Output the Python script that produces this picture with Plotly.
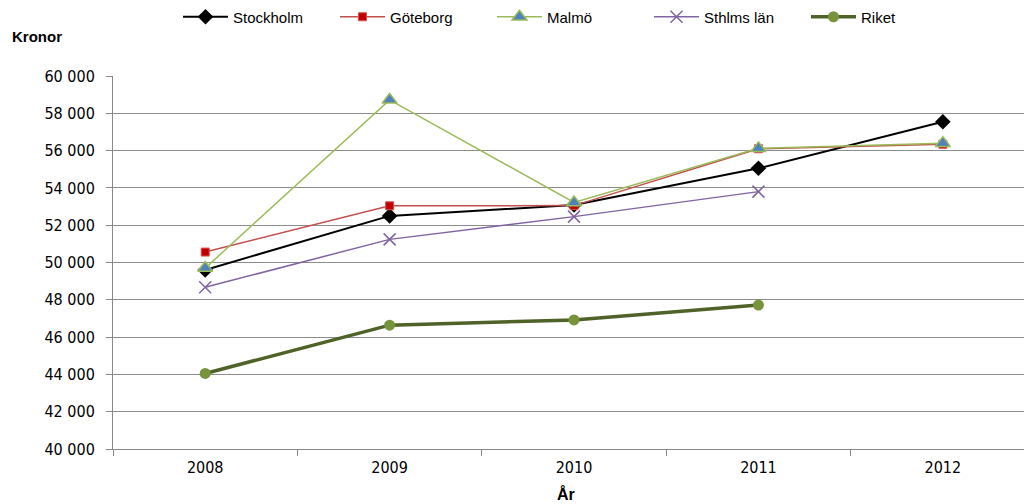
import plotly.graph_objects as go

years = ["2008", "2009", "2010", "2011", "2012"]
stockholm = [49600, 52500, 53080, 55050, 57550]
goteborg = [50560, 53040, 53050, 56100, 56340]
malmo = [49700, 58720, 53220, 56120, 56400]
sthlms_lan = [48670, 51240, 52460, 53800, None]
riket = [44050, 46640, 46920, 47720, None]
yticks = list(range(40000, 60001, 2000))
ytext = [f"{v//1000} 000" for v in yticks]

FONT = "Liberation Sans Narrow, DejaVu Sans Condensed, Arial Narrow, sans-serif"
L, T, B, W, H = 113, 76, 55, 1024, 504
PW = W - L
PH = H - T - B

fig = go.Figure()
fig.add_trace(go.Scatter(x=years, y=stockholm, name="Stockholm", mode="lines+markers",
                         line=dict(color="#000000", width=2),
                         marker=dict(symbol="diamond", size=12, color="#000000")))
fig.add_trace(go.Scatter(x=years, y=goteborg, name="Göteborg", mode="lines+markers",
                         line=dict(color="#C0504D", width=1.5),
                         marker=dict(symbol="square", size=8, color="#C00000",
                                     line=dict(color="#D9534F", width=1))))
fig.add_trace(go.Scatter(x=years, y=malmo, name="Malmö", mode="lines+markers",
                         line=dict(color="#9BBB59", width=1.5),
                         marker=dict(symbol="triangle-up", size=13, color="#4F81BD",
                                     line=dict(color="#9BBB59", width=1.5))))
fig.add_trace(go.Scatter(x=years, y=sthlms_lan, name="Sthlms län", mode="lines+markers",
                         line=dict(color="#8064A2", width=1.5),
                         marker=dict(symbol="x-thin", size=12,
                                     line=dict(color="#8064A2", width=1.5))))
fig.add_trace(go.Scatter(x=years, y=riket, name="Riket", mode="lines+markers",
                         line=dict(color="#4F6228", width=3.5),
                         marker=dict(symbol="circle", size=11, color="#77933C")))

fig.update_layout(
    width=W, height=H,
    margin=dict(l=L, r=0, t=T, b=B, autoexpand=False),
    paper_bgcolor="white", plot_bgcolor="white",
    font=dict(family=FONT, size=14, color="#000000"),
    showlegend=True,
    legend=dict(orientation="h", x=(178 - L) / PW, xanchor="left",
                y=1 + (T - 17) / PH, yanchor="middle",
                font=dict(family="Liberation Sans, Arial, sans-serif", size=15),
                itemwidth=45, entrywidth=97, entrywidthmode="pixels",
                bgcolor="rgba(0,0,0,0)"),
    xaxis=dict(type="category", range=[-0.5, 4.44], showgrid=False, automargin=False,
               showline=True, linecolor="#888888", linewidth=1,
               ticks="outside", tickson="boundaries", ticklen=6, tickcolor="#888888",
               ticklabelstandoff=4,
               tickfont=dict(size=16), zeroline=False),
    yaxis=dict(range=[40000, 60000], tickvals=yticks, ticktext=ytext, automargin=False,
               showgrid=True, gridcolor="#8C8C8C", gridwidth=1.3,
               showline=True, linecolor="#888888", linewidth=1,
               ticks="outside", ticklen=6, tickcolor="#888888",
               ticklabelstandoff=8,
               tickfont=dict(size=16), zeroline=False),
    annotations=[
        dict(text="<b>Kronor</b>", x=(10 - L) / PW, xanchor="left",
             y=1 + (T - 37) / PH, yanchor="middle", xref="paper", yref="paper",
             showarrow=False, font=dict(family="Liberation Sans, Arial, sans-serif", size=15)),
        dict(text="<b>År</b>", x=(566 - L) / PW, xanchor="center",
             y=-(494 - (H - B)) / PH, yanchor="middle", xref="paper", yref="paper",
             showarrow=False, font=dict(family="Liberation Sans, Arial, sans-serif", size=16)),
    ],
)

fig.write_html("out.html", config={"responsive": False, "displayModeBar": False},
               post_script="document.body.style.margin='0';document.body.style.overflow='hidden';")
